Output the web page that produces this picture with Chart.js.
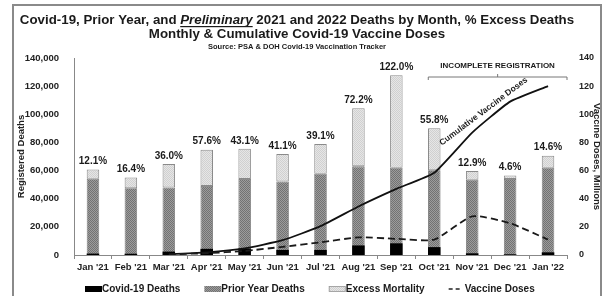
<!DOCTYPE html>
<html>
<head>
<meta charset="utf-8">
<script src="https://cdn.jsdelivr.net/npm/chart.js@4.4.0/dist/chart.umd.min.js"></script>
<style>
  html,body{margin:0;padding:0;background:#fff;}
  #wrap{position:relative;width:608px;height:296px;}
  #frame{position:absolute;left:12px;top:4px;width:586px;height:300px;border:2px solid #8a8a8a;pointer-events:none;}
</style>
</head>
<body>
<div id="wrap">
  <canvas id="chart" width="608" height="296"></canvas>
  <div id="frame"></div>
</div>
<script>
// ====== DATA ======
const months = ["Jan '21","Feb '21","Mar '21","Apr '21","May '21","Jun '21","Jul '21","Aug '21","Sep '21","Oct '21","Nov '21","Dec '21","Jan '22"];
const covidDeaths = [1000, 900, 2400, 4400, 4600, 3600, 3600, 6800, 8300, 5600, 1200, 500, 1900];
const priorYearDeaths = [54200, 47500, 48000, 49000, 54000, 52300, 57800, 63000, 62000, 60300, 53500, 54000, 62000];
const totalDeaths = [60700, 55000, 64600, 74800, 75500, 71800, 78800, 104300, 127800, 90000, 59700, 56500, 70600];
const excessPct = ['12.1%','16.4%','36.0%','57.6%','43.1%','41.1%','39.1%','72.2%','122.0%','55.8%','12.9%','4.6%','14.6%'];
const cumulativeDoses = [null, null, 0.5, 1.8, 4.7, 10.5, 20.5, 34.5, 47, 58.5, 87, 109, 120];
const monthlyDoses = [null, null, 0.5, 1.3, 2.9, 5.8, 9, 12.5, 11.5, 11, 27.5, 22.5, 11];

const FONT = "'Liberation Sans', Arial, sans-serif";

// ====== PATTERNS ======
function dots(base, dot){
  const p = document.createElement('canvas');
  p.width = 2; p.height = 2;
  const g = p.getContext('2d');
  g.fillStyle = base; g.fillRect(0,0,2,2);
  g.fillStyle = dot; g.fillRect(0,0,1,1); g.fillRect(1,1,1,1);
  return g.createPattern(p, 'repeat');
}
const priorFill = dots('#9c9c9c', '#727272');
const excessFill = dots('#e6e6e6', '#d0d0d0');

// ====== EXTRAS (titles, labels, legend) ======
const extras = {
  id: 'extras',
  afterDraw(chart){
    const ctx = chart.ctx;
    const x = chart.scales.x, y2 = chart.scales.y2, area = chart.chartArea;
    ctx.save();
    ctx.fillStyle = '#1a1a1a';
    ctx.textBaseline = 'middle';

    // title line 1 with italic underlined word
    const parts = [
      ['bold 13.3px ' + FONT, 'Covid-19, Prior Year, and '],
      ['italic bold 13.3px ' + FONT, 'Preliminary'],
      ['bold 13.3px ' + FONT, ' 2021 and 2022 Deaths by Month, % Excess Deaths']
    ];
    let w = 0;
    parts.forEach(p => { ctx.font = p[0]; w += ctx.measureText(p[1]).width; });
    let cx = 297 - w/2;
    ctx.textAlign = 'left';
    parts.forEach((p,i) => {
      ctx.font = p[0];
      const pw = ctx.measureText(p[1]).width;
      ctx.fillText(p[1], cx, 20);
      if(i===1){ ctx.fillRect(cx, 26, pw, 1.2); }
      cx += pw;
    });
    ctx.textAlign = 'center';
    ctx.font = 'bold 13.3px ' + FONT;
    ctx.fillText('Monthly & Cumulative Covid-19 Vaccine Doses', 297, 34.5);
    ctx.font = 'bold 7.5px ' + FONT;
    ctx.fillText('Source: PSA & DOH Covid-19 Vaccination Tracker', 297, 46.5);

    // percentage labels above bars
    const meta = chart.getDatasetMeta(2);
    ctx.font = 'bold 10px ' + FONT;
    meta.data.forEach((bar,i) => {
      ctx.fillText(excessPct[i], bar.x, bar.y - 8);
    });

    // incomplete registration bracket
    const bl = x.getPixelForValue(9) - 6, br = area.right;
    const by = 77, mid = (bl + br)/2;
    ctx.strokeStyle = '#777'; ctx.lineWidth = 1;
    ctx.beginPath();
    ctx.moveTo(bl, by+3); ctx.lineTo(bl, by); ctx.lineTo(br, by); ctx.lineTo(br, by+3);
    ctx.moveTo(mid, by); ctx.lineTo(mid, by-3);
    ctx.stroke();
    ctx.font = 'bold 8px ' + FONT;
    ctx.fillText('INCOMPLETE REGISTRATION', mid, 66);

    // rotated label on the cumulative line
    ctx.save();
    ctx.translate(x.getPixelForValue(10.3), y2.getPixelForValue(102));
    ctx.rotate(-37 * Math.PI/180);
    ctx.font = 'bold 8.5px ' + FONT;
    ctx.fillText('Cumulative Vaccine Doses', 0, 0);
    ctx.restore();

    // legend
    const items = [
      {label:'Covid-19 Deaths', fill:'#000'},
      {label:'Prior Year Deaths', fill:priorFill},
      {label:'Excess Mortality', fill:excessFill, stroke:'#999'},
      {label:'Vaccine Doses', dash:true}
    ];
    ctx.font = 'bold 10px ' + FONT;
    ctx.textAlign = 'left';
    let lx = 85; const ly = 289;
    items.forEach(it => {
      if(it.dash){
        ctx.strokeStyle = '#222'; ctx.lineWidth = 1.6; ctx.setLineDash([4,3]);
        ctx.beginPath(); ctx.moveTo(lx, ly); ctx.lineTo(lx+14, ly); ctx.stroke();
        ctx.setLineDash([]);
        lx += 16;
      } else {
        ctx.fillStyle = it.fill; ctx.fillRect(lx, ly-3, 17, 6);
        if(it.stroke){ ctx.strokeStyle = it.stroke; ctx.lineWidth = 0.8; ctx.strokeRect(lx+0.5, ly-2.5, 16, 5); }
        lx += 17;
      }
      ctx.fillStyle = '#1a1a1a';
      ctx.fillText(it.label, lx, ly);
      lx += ctx.measureText(it.label).width + 24;
    });
    ctx.restore();
  }
};

// ====== CHART ======
const tickFont = {family: FONT, size: 9.5, weight: 'bold'};

new Chart(document.getElementById('chart'), {
  type: 'bar',
  data: {
    labels: months,
    datasets: [
      {label:'Vaccine Doses', type:'line', data:monthlyDoses, yAxisID:'y2', borderColor:'#1a1a1a', borderWidth:1.8, borderDash:[7,4], pointRadius:0, tension:0.2, fill:false, order:0},
      {label:'Cumulative Vaccine Doses', type:'line', data:cumulativeDoses, yAxisID:'y2', borderColor:'#111', borderWidth:1.8, pointRadius:0, tension:0.15, fill:false, order:0},
      {label:'Excess Mortality', data:priorYearDeaths.map((p,i)=>[p, totalDeaths[i]]), backgroundColor:excessFill, borderColor:'#8a8a8a', borderWidth:1, borderSkipped:false, grouped:false, barPercentage:0.33, categoryPercentage:1, order:2},
      {label:'Prior Year Deaths', data:priorYearDeaths, backgroundColor:priorFill, borderColor:'#6a6a6a', borderWidth:0.8, grouped:false, barPercentage:0.33, categoryPercentage:1, order:3},
      {label:'Covid-19 Deaths', data:covidDeaths, backgroundColor:'#000', grouped:false, barPercentage:0.33, categoryPercentage:1, order:1}
    ]
  },
  options: {
    responsive: false,
    animation: false,
    layout: {padding: {top: 58, bottom: 21, left: 14, right: 5}},
    plugins: {legend: {display:false}, tooltip: {enabled:false}},
    scales: {
      x: {
        grid: {display:true, drawOnChartArea:false, tickLength:4, color:'#888'},
        border: {color:'#888'},
        ticks: {font: tickFont, color:'#222', autoSkip:false, maxRotation:0, padding:3},
        afterFit(s){ s.height = 20; }
      },
      y: {
        position: 'left',
        min: 0, max: 140000,
        ticks: {stepSize:20000, font: tickFont, color:'#222', padding:7},
        grid: {display:false},
        border: {display:true, color:'#888'},
        title: {display:true, text:'Registered Deaths', font:{family:FONT, size:9.5, weight:'bold'}, color:'#222', padding:2},
        afterFit(s){ s.width = 60; }
      },
      y2: {
        position: 'right',
        min: 0, max: 140,
        ticks: {stepSize:20, font:{family:FONT, size:9, weight:'bold'}, color:'#222', padding:4},
        grid: {display:false},
        border: {display:false},
        title: {display:true, text:'Vaccine Doses, Millions', font:{family:FONT, size:9.5, weight:'bold'}, color:'#222', padding:1},
        afterFit(s){ s.width = 36; }
      }
    }
  },
  plugins: [extras]
});
</script>
</body>
</html>
